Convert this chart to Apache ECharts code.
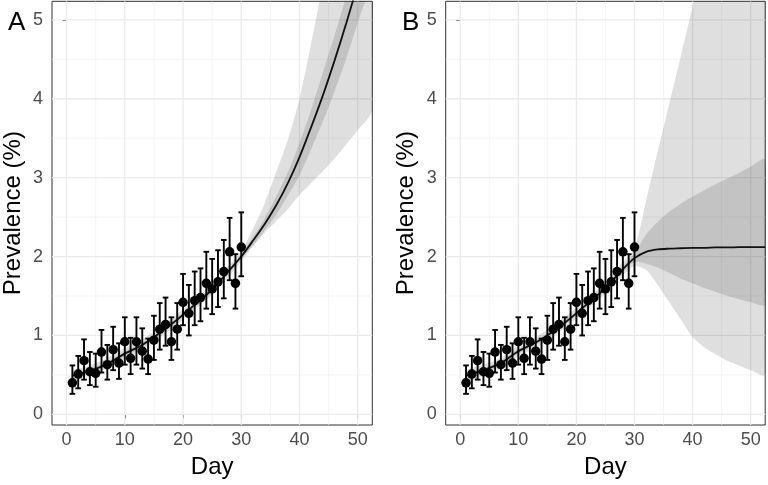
<!DOCTYPE html>
<html><head><meta charset="utf-8">
<script src="https://cdn.jsdelivr.net/npm/echarts@6/dist/echarts.min.js"></script>
<style>html,body{margin:0;padding:0;background:#fff}#c{width:768px;height:485px}</style>
</head><body><div id="c"></div>
<script>
// Observed data (same in both panels)
const days = [1,2,3,4,5,6,7,8,9,10,11,12,13,14,15,16,17,18,19,20,21,22,23,24,25,26,27,28,29,30];
const prevalence = [0.40,0.51,0.68,0.54,0.52,0.79,0.63,0.82,0.65,0.92,0.71,0.92,0.80,0.70,0.94,1.08,1.14,0.92,1.08,1.42,1.28,1.44,1.48,1.66,1.59,1.68,1.81,2.06,1.66,2.12];
const ciLow = [0.26,0.33,0.44,0.37,0.35,0.53,0.44,0.56,0.45,0.63,0.51,0.63,0.58,0.51,0.69,0.82,0.87,0.69,0.82,1.13,1.00,1.13,1.18,1.34,1.27,1.36,1.47,1.70,1.34,1.75];
const ciHigh = [0.62,0.74,0.95,0.79,0.77,1.07,0.88,1.11,0.90,1.23,0.97,1.23,1.09,0.96,1.25,1.41,1.48,1.23,1.41,1.78,1.64,1.81,1.85,2.06,1.97,2.08,2.21,2.49,2.03,2.56];

// Model curves
const curveDays = [1,4,7,10,13,16,19,22,25,28,30,32,34,36,38,40,42,44,46,48,50,52.5];
// Panel A
const fitA      = [0.49,0.55,0.64,0.77,0.88,1.03,1.20,1.39,1.58,1.83,2.00,2.20,2.41,2.65,2.93,3.26,3.64,4.04,4.48,4.95,5.45,6.10];
const outerLowA = [0.42,0.49,0.58,0.71,0.82,0.97,1.14,1.33,1.52,1.76,1.94,2.13,2.30,2.45,2.60,2.78,2.93,3.08,3.24,3.42,3.60,3.86];
const outerHighA= [0.55,0.62,0.71,0.84,0.95,1.10,1.27,1.46,1.65,1.90,2.07,2.35,2.67,3.07,3.48,4.00,4.70,5.45,6.20,7.00,7.80,8.80];
const innerLowA = [0.45,0.52,0.61,0.74,0.85,1.00,1.17,1.36,1.55,1.80,1.97,2.14,2.33,2.53,2.77,3.03,3.36,3.71,4.09,4.50,4.97,5.55];
const innerHighA= [0.51,0.58,0.67,0.80,0.91,1.06,1.23,1.42,1.61,1.86,2.03,2.25,2.48,2.76,3.07,3.44,3.86,4.33,4.80,5.30,5.85,6.60];
// Panel B
const fitB      = [0.49,0.56,0.65,0.80,0.91,1.05,1.22,1.41,1.60,1.84,1.98,2.06,2.09,2.10,2.105,2.11,2.11,2.115,2.115,2.12,2.12,2.12];
const outerLowB = [0.42,0.49,0.58,0.73,0.84,0.98,1.15,1.34,1.53,1.76,1.88,1.83,1.64,1.42,1.20,0.98,0.85,0.76,0.68,0.62,0.56,0.50];
const outerHighB= [0.56,0.63,0.72,0.87,0.98,1.12,1.29,1.48,1.68,1.93,2.10,2.71,3.33,3.94,4.55,5.17,5.80,6.40,7.00,7.60,8.20,9.00];
const innerLowB = [0.46,0.53,0.62,0.77,0.88,1.02,1.19,1.38,1.57,1.80,1.93,1.91,1.86,1.79,1.72,1.66,1.60,1.55,1.50,1.46,1.42,1.39];
const innerHighB= [0.52,0.59,0.68,0.83,0.94,1.08,1.25,1.44,1.63,1.88,2.04,2.28,2.44,2.57,2.67,2.76,2.84,2.92,2.99,3.06,3.14,3.23];

// Axes
const xTicks = [0,10,20,30,40,50];
const xMinor = [5,15,25,35,45];
const yTicks = [0,1,2,3,4,5];
const yMinor = [0.5,1.5,2.5,3.5,4.5];
const X_MIN = -2.5, X_MAX = 52.5, Y_MIN = -0.135, Y_MAX = 5.235;

const FONT = 'Liberation Sans, Arial, sans-serif';
const chart = echarts.init(document.getElementById('c'), null, {renderer: 'canvas'});

function gridSeries(idx, vals, vertical, width, color) {
  return {
    type: 'custom', xAxisIndex: idx, yAxisIndex: idx, z: 1, silent: true, clip: true,
    data: vals.map(v => vertical ? [v, 0] : [0, v]),
    renderItem: function (params, api) {
      let p1, p2;
      if (vertical) { p1 = api.coord([api.value(0), Y_MIN]); p2 = api.coord([api.value(0), Y_MAX]); }
      else { p1 = api.coord([X_MIN, api.value(1)]); p2 = api.coord([X_MAX, api.value(1)]); }
      return {type: 'line', shape: {x1: p1[0], y1: p1[1], x2: p2[0], y2: p2[1]}, style: {stroke: color, lineWidth: width}};
    }
  };
}

function bandSeries(idx, lo, hi, fill, z) {
  return {
    type: 'custom', xAxisIndex: idx, yAxisIndex: idx, z: z, silent: true, clip: true,
    data: curveDays.map((d, i) => [d, lo[i], hi[i]]),
    encode: {x: 0, y: [1, 2]},
    renderItem: function (params, api) {
      if (params.dataIndex !== 0) return null;
      const pts = [];
      for (let i = 0; i < curveDays.length; i++) pts.push(api.coord([curveDays[i], hi[i]]));
      for (let i = curveDays.length - 1; i >= 0; i--) pts.push(api.coord([curveDays[i], lo[i]]));
      return {type: 'polygon', shape: {points: pts, smooth: 0.25}, style: {fill: fill}};
    }
  };
}

function panelSeries(idx, fit, oLo, oHi, iLo, iHi) {
  return [
    gridSeries(idx, xMinor, true, 0.7, '#efefef'),
    gridSeries(idx, yMinor, false, 0.7, '#efefef'),
    gridSeries(idx, xTicks, true, 1.3, '#ebebeb'),
    gridSeries(idx, yTicks, false, 1.3, '#ebebeb'),
    bandSeries(idx, oLo, oHi, 'rgba(0,0,0,0.125)', 2),
    bandSeries(idx, iLo, iHi, 'rgba(0,0,0,0.12)', 3),
    {
      type: 'line', xAxisIndex: idx, yAxisIndex: idx, z: 4, silent: true, smooth: 0.3,
      showSymbol: false, symbol: 'none',
      data: curveDays.map((d, i) => [d, fit[i]]),
      lineStyle: {color: '#111', width: 1.8}
    },
    {
      type: 'custom', xAxisIndex: idx, yAxisIndex: idx, z: 5, silent: true,
      data: days.map((d, i) => [d, ciLow[i], ciHigh[i]]),
      encode: {x: 0, y: [1, 2]},
      renderItem: function (params, api) {
        const top = api.coord([api.value(0), api.value(2)]);
        const bot = api.coord([api.value(0), api.value(1)]);
        const h = 2.8, st = {stroke: '#000', lineWidth: 1.9};
        return {type: 'group', children: [
          {type: 'line', shape: {x1: top[0], y1: top[1], x2: bot[0], y2: bot[1]}, style: st},
          {type: 'line', shape: {x1: top[0]-h, y1: top[1], x2: top[0]+h, y2: top[1]}, style: st},
          {type: 'line', shape: {x1: bot[0]-h, y1: bot[1], x2: bot[0]+h, y2: bot[1]}, style: st}
        ]};
      }
    },
    {
      type: 'scatter', xAxisIndex: idx, yAxisIndex: idx, z: 6, silent: true,
      symbol: 'circle', symbolSize: 9.5,
      itemStyle: {color: '#000', opacity: 1},
      data: days.map((d, i) => [d, prevalence[i]])
    }
  ];
}

function xAxis(idx) {
  return {
    gridIndex: idx, type: 'value', min: X_MIN, max: X_MAX,
    axisLine: {show: false},
    axisTick: {show: true, length: 4, lineStyle: {color: '#333', width: 1}, customValues: xTicks},
    axisLabel: {customValues: xTicks, color: '#4d4d4d', fontSize: 18, fontFamily: FONT, margin: 6},
    splitLine: {show: false},
    name: 'Day', nameLocation: 'middle', nameGap: 30,
    nameTextStyle: {fontSize: 24, color: '#000', fontFamily: FONT}
  };
}
function yAxis(idx) {
  return {
    gridIndex: idx, type: 'value', min: Y_MIN, max: Y_MAX,
    axisLine: {show: false},
    axisTick: {show: true, length: 4, lineStyle: {color: '#333', width: 1}, customValues: yTicks},
    axisLabel: {customValues: yTicks, color: '#4d4d4d', fontSize: 18, fontFamily: FONT, margin: 9},
    splitLine: {show: false},
    name: 'Prevalence (%)', nameLocation: 'middle', nameGap: 27,
    nameTextStyle: {fontSize: 24, color: '#000', fontFamily: FONT}
  };
}

const option = {
  animation: false,
  backgroundColor: '#fff',
  grid: [
    {left: 51.4, top: 1.3, width: 320.9, height: 423.7, show: true, borderColor: '#333', borderWidth: 1, backgroundColor: '#fff'},
    {left: 445.7, top: 1.3, width: 319.5, height: 423.7, show: true, borderColor: '#333', borderWidth: 1, backgroundColor: '#fff'}
  ],
  xAxis: [xAxis(0), xAxis(1)],
  yAxis: [yAxis(0), yAxis(1)],
  graphic: [
    {type: 'text', left: 8, top: 10, style: {text: 'A', fontSize: 26, fontFamily: FONT, fill: '#000'}},
    {type: 'text', left: 402, top: 10, style: {text: 'B', fontSize: 26, fontFamily: FONT, fill: '#000'}}
  ],
  series: [].concat(
    panelSeries(0, fitA, outerLowA, outerHighA, innerLowA, innerHighA),
    panelSeries(1, fitB, outerLowB, outerHighB, innerLowB, innerHighB)
  )
};
chart.setOption(option);
</script></body></html>
